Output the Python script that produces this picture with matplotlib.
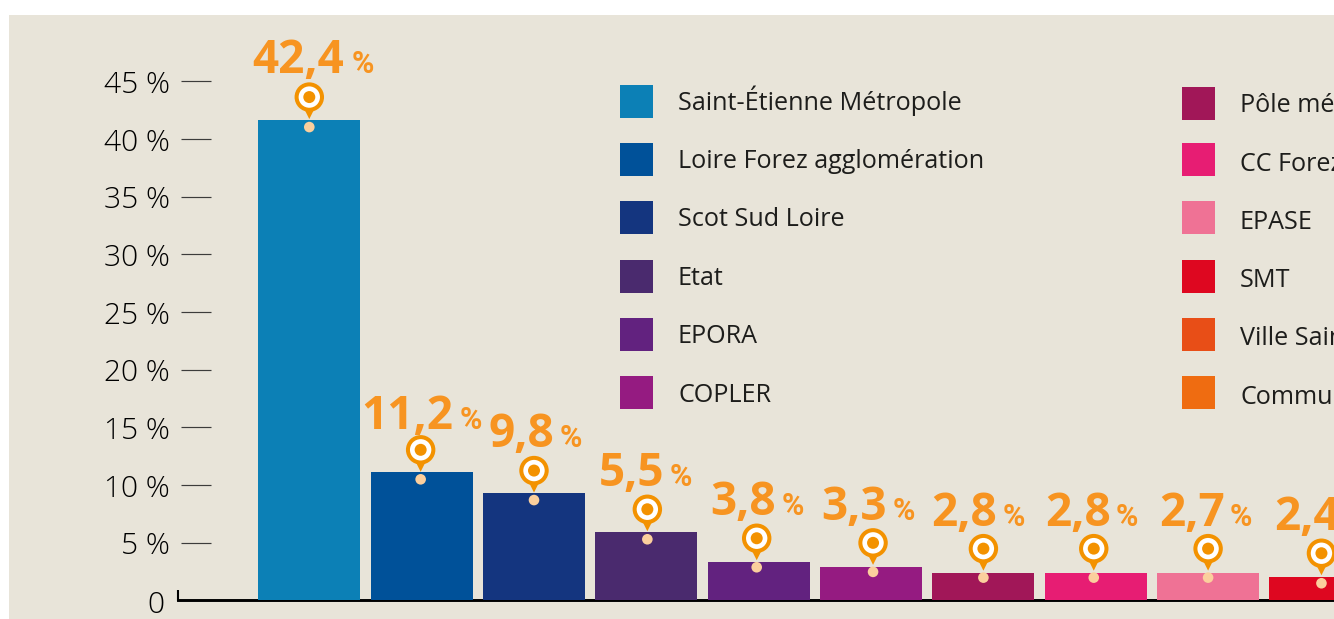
import matplotlib
matplotlib.use("Agg")
import matplotlib.pyplot as plt
from matplotlib.patches import Rectangle, Circle, Polygon
from matplotlib.transforms import Affine2D

categories = ["Saint-Étienne Métropole", "Loire Forez agglomération", "Scot Sud Loire", "Etat",
              "EPORA", "COPLER", "Pôle métropolitain", "CC Forez-Est", "EPASE", "SMT"]
bar_values = [41.65, 11.1, 9.3, 5.9, 3.3, 2.9, 2.4, 2.4, 2.4, 2.0]
value_labels = ["42,4", "11,2", "9,8", "5,5", "3,8", "3,3", "2,8", "2,8", "2,7", "2,4"]
bar_colors = ["#0C80B6", "#005199", "#14357F", "#4A2A6E", "#62227F", "#951B81",
              "#A11758", "#E71D73", "#EF7295", "#DE0720"]
legend_col2 = ["Pôle métropolitain", "CC Forez-Est", "EPASE", "SMT", "Ville Saint-Étienne", "Communes"]
legend_col2_colors = ["#A11758", "#E71D73", "#EF7295", "#DE0720", "#E84E17", "#EF6C11"]
y_ticks = [5, 10, 15, 20, 25, 30, 35, 40, 45]
y_tick_labels = ["5 %", "10 %", "15 %", "20 %", "25 %", "30 %", "35 %", "40 %", "45 %"]

# layout tweaks, in pixels
pin_dx = [0, -1, 0, 1, -2, 2, 0, -2, 0, 1]
pin_dy = [23, 22.5, 22.5, 23, 24, 24, 24, 24, 24, 24]
dot_dy = [7, 7, 7, 7, 5, 5, 5, 5, 5, 6]
label_dx = [-57, -60, -46, -48, -48, -50, -52, -51, -49, -46]
label_dy = [24, 21, 24, 23, 23, 23, 23, 23, 23, 23]
pct_gap = [99, 98, 72, 71, 71, 72, 71, 71, 71, 71]
BEIGE = "#E8E4D9"; ORANGE = "#F39200"; LABEL = "#F79421"; CREAM = "#FBCF9D"; INK = "#1D1D1B"
FAM = ["Open Sans", "DejaVu Sans"]
PCT = ["Roboto", "DejaVu Sans"]

W, H = 1334, 619
fig = plt.figure(figsize=(W / 100, H / 100), dpi=100, facecolor="white")
ax = fig.add_axes([9 / W, 0, (W - 9) / W, (H - 15) / H], facecolor=BEIGE)
px = Affine2D().scale(1, -1).translate(0, H)   # reference pixel coords

STEP = 112.35; X0 = 309.3; Y0 = 600.3; SC = 11.53
ax.set_xlim((9 - X0) / STEP, (W - X0) / STEP)
ax.set_ylim((Y0 - H) / SC, (Y0 - 15) / SC)
xs = list(range(len(bar_values)))
ax.bar(xs, bar_values, width=102 / STEP, color=bar_colors, zorder=3, linewidth=0)

for s in ("top", "right"):
    ax.spines[s].set_visible(False)
ax.spines["bottom"].set_position(("data", 0))
ax.spines["bottom"].set_bounds((178 - X0) / STEP, ax.get_xlim()[1])
ax.spines["bottom"].set_linewidth(2.1)
ax.spines["bottom"].set_color("black")
ax.spines["left"].set_position(("data", (211 - X0) / STEP))
ax.spines["left"].set_visible(False)
ax.set_xticks([])
ax.set_yticks(y_ticks)
ax.set_yticklabels(y_tick_labels, family=FAM, weight=300, fontsize=21.5, color="#000000")
ax.tick_params(axis="y", length=21.6, width=0.85, color="#3C3C3B", pad=8)
for t in ax.get_yticklabels():
    t.set_transform(t.get_transform() + Affine2D().translate(0, -0.5))
ax.text(164, 613, "0", transform=px, ha="right", va="baseline", family=FAM, weight=300, fontsize=21.5, color="#000000")
ax.plot([178, 178], [590, 601], transform=px, color="black", lw=1.5, solid_capstyle="butt")

for i, (v, lab) in enumerate(zip(bar_values, value_labels)):
    cx = X0 + i * STEP + pin_dx[i]
    top = Y0 - v * SC
    cy = top - pin_dy[i]
    ax.add_patch(Polygon([(cx - 6, cy + 10), (cx + 6, cy + 10), (cx, cy + 22)], transform=px, color=ORANGE, lw=0, zorder=4))
    ax.add_patch(Circle((cx, cy), 12.7, transform=px, fc="white", ec=ORANGE, lw=2.9, zorder=5))
    ax.add_patch(Circle((cx, cy), 6, transform=px, fc=ORANGE, lw=0, zorder=6))
    ax.add_patch(Circle((cx, top + dot_dy[i]), 5.3, transform=px, fc=CREAM, lw=0, zorder=6))
    lx = X0 + i * STEP + label_dx[i]
    ly = cy - label_dy[i]
    ax.text(lx, ly, lab, transform=px, ha="left", va="baseline", family=FAM, weight="bold",
            fontsize=33, color=LABEL, zorder=7, clip_on=True)
    ax.text(lx + pct_gap[i], ly, "%", transform=px, ha="left", va="baseline", family=PCT, weight="bold",
            fontsize=22, color=LABEL, zorder=7, clip_on=True)

col1_y = [85, 143, 201, 260, 318, 376]
col2_y = [87, 143, 201, 260, 318, 376]
col1_base = [110, 168, 226, 285, 343, 402]
col2_base = [112, 171, 229, 287, 345, 404]
for name, c, y, b in zip(categories[:6], bar_colors[:6], col1_y, col1_base):
    ax.add_patch(Rectangle((620, y), 33, 33, transform=px, fc=c, lw=0))
    ax.text(678, b, name, transform=px, va="baseline", family=FAM, fontsize=18.1, color=INK)
for name, c, y, b in zip(legend_col2, legend_col2_colors, col2_y, col2_base):
    ax.add_patch(Rectangle((1182, y), 33, 33, transform=px, fc=c, lw=0))
    ax.text(1240, b, name, transform=px, va="baseline", family=FAM, fontsize=18.1, color=INK, clip_on=True)

fig.savefig("out.png", dpi=100)
